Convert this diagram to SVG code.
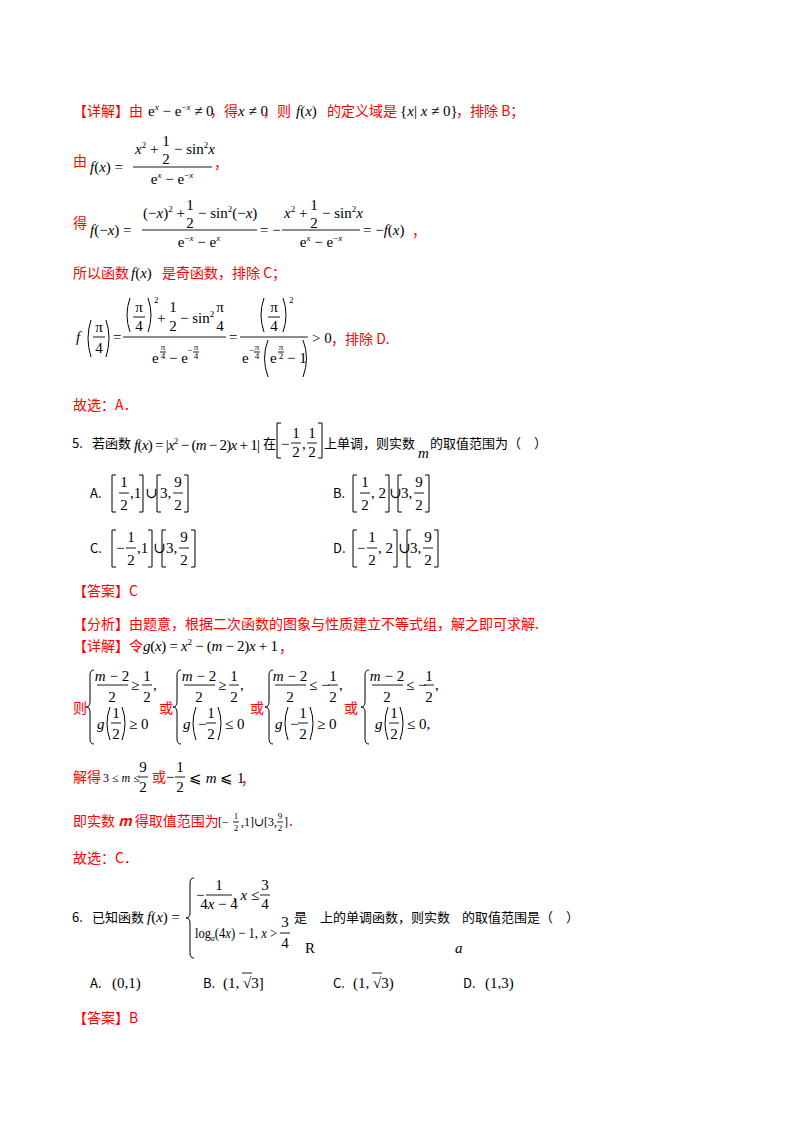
<svg xmlns="http://www.w3.org/2000/svg" width="800" height="1132" viewBox="0 0 800 1132">
<style>
.r{font-family:"Noto Sans CJK SC","Liberation Sans",sans-serif;font-size:14px;fill:#f00}
.k{font-family:"Noto Sans CJK SC","Liberation Sans",sans-serif;font-size:13px;fill:#000}
.m{font-family:"Liberation Serif","DejaVu Serif",serif;font-size:15px;fill:#000}
.sm{font-family:"Liberation Serif","DejaVu Serif",serif;font-size:12px;fill:#000}
.xs{font-family:"Liberation Serif","DejaVu Serif",serif;font-size:9px;fill:#000}
.c{text-anchor:middle}
.i{font-style:italic}
.sup{font-size:9px}
line{stroke:#000;stroke-width:0.9}
path{stroke:#000;stroke-width:1;fill:none}
</style>
<rect width="800" height="1132" fill="#fff"/>

<!-- line 1 -->
<text class="r" x="73" y="116">【详解】由</text>
<text class="m" x="148" y="116">e<tspan class="sup i" dy="-6">x</tspan><tspan dy="6"> − e</tspan><tspan class="sup" dy="-6">−<tspan class="i">x</tspan></tspan><tspan dy="6"> ≠ 0</tspan></text>
<text class="r" x="210" y="116">，得</text>
<text class="m" x="238" y="116"><tspan class="i">x</tspan> ≠ 0</text>
<text class="r" x="263" y="116">，则</text>
<text class="m" x="296" y="116" font-size="17"><tspan class="i">f</tspan>(<tspan class="i">x</tspan>)</text>
<text class="r" x="327" y="116">的定义域是</text>
<text class="m" x="400" y="116">{<tspan class="i">x</tspan>| <tspan class="i">x</tspan> ≠ 0}</text>
<text class="r" x="456" y="116">，排除 B；</text>

<!-- 由 f(x) -->
<text class="r" x="73" y="166">由</text>
<text class="m" x="90" y="172" font-size="16"><tspan class="i">f</tspan>(<tspan class="i">x</tspan>) =</text>
<text class="m" x="135" y="154"><tspan class="i">x</tspan><tspan class="sup" dy="-6">2</tspan><tspan dy="6"> +</tspan></text>
<text class="m c" x="166" y="146">1</text>
<text class="m c" x="166" y="164">2</text>
<text class="m" x="174" y="154">− sin<tspan class="sup" dy="-6">2</tspan><tspan class="i" dy="6">x</tspan></text>
<line x1="133" y1="167" x2="212" y2="167"/>
<text class="m c" x="172" y="184">e<tspan class="sup i" dy="-6">x</tspan><tspan dy="6"> − e</tspan><tspan class="sup" dy="-6">−<tspan class="i">x</tspan></tspan></text>
<text class="r" x="214" y="168">，</text>

<!-- 得 f(-x) -->
<text class="r" x="73" y="228">得</text>
<text class="m" x="90" y="235" font-size="16"><tspan class="i">f</tspan>(−<tspan class="i">x</tspan>) =</text>
<text class="m" x="143" y="218">(−<tspan class="i">x</tspan>)<tspan class="sup" dy="-6">2</tspan><tspan dy="6"> +</tspan></text>
<text class="m c" x="190" y="210">1</text>
<text class="m c" x="190" y="228">2</text>
<text class="m" x="198" y="218">− sin<tspan class="sup" dy="-6">2</tspan><tspan dy="6">(−</tspan><tspan class="i">x</tspan>)</text>
<line x1="142" y1="230" x2="257" y2="230"/>
<text class="m c" x="199" y="247">e<tspan class="sup" dy="-6">−<tspan class="i">x</tspan></tspan><tspan dy="6"> − e</tspan><tspan class="sup i" dy="-6">x</tspan></text>
<text class="m" x="260" y="235">= −</text>
<text class="m" x="284" y="218"><tspan class="i">x</tspan><tspan class="sup" dy="-6">2</tspan><tspan dy="6"> +</tspan></text>
<text class="m c" x="314" y="210">1</text>
<text class="m c" x="314" y="228">2</text>
<text class="m" x="322" y="218">− sin<tspan class="sup" dy="-6">2</tspan><tspan class="i" dy="6">x</tspan></text>
<line x1="282" y1="230" x2="360" y2="230"/>
<text class="m c" x="321" y="247">e<tspan class="sup i" dy="-6">x</tspan><tspan dy="6"> − e</tspan><tspan class="sup" dy="-6">−<tspan class="i">x</tspan></tspan></text>
<text class="m" x="363" y="235" font-size="16">= −<tspan class="i">f</tspan>(<tspan class="i">x</tspan>)</text>
<text class="r" x="412" y="236">，</text>

<!-- 所以 -->
<text class="r" x="73" y="278">所以函数</text>
<text class="m" x="131" y="278" font-size="17"><tspan class="i">f</tspan>(<tspan class="i">x</tspan>)</text>
<text class="r" x="162" y="278">是奇函数，排除 C；</text>

<!-- f(pi/4) -->
<text class="m i" x="76" y="342">f</text>
<path d="M91,320 Q85,338 91,357 M106,320 Q112,338 106,357"/>
<text class="m c" x="99" y="332">π</text>
<line x1="93" y1="337" x2="105" y2="337"/>
<text class="m c" x="99" y="353">4</text>
<text class="m" x="113" y="342">=</text>
<line x1="123" y1="337" x2="226" y2="337"/>
<path d="M130,298 Q124,315 130,332 M148,298 Q154,315 148,332"/>
<text class="m c" x="139" y="312">π</text>
<line x1="133" y1="317" x2="145" y2="317"/>
<text class="m c" x="139" y="331">4</text>
<text class="xs" x="154" y="303">2</text>
<text class="m" x="157" y="323">+</text>
<text class="m c" x="173" y="312">1</text>
<text class="m c" x="173" y="331">2</text>
<text class="m" x="180" y="323">− sin<tspan class="sup" dy="-6">2</tspan></text>
<text class="m c" x="220" y="312">π</text>
<text class="m c" x="220" y="331">4</text>
<text class="m" x="152" y="363">e</text>
<text class="xs c" x="163" y="350">π</text>
<line x1="160" y1="352" x2="166" y2="352"/>
<text class="xs c" x="163" y="359">4</text>
<text class="m" x="169" y="363">− e</text>
<text class="xs" x="187" y="353">−</text>
<text class="xs c" x="196" y="350">π</text>
<line x1="193" y1="352" x2="199" y2="352"/>
<text class="xs c" x="196" y="359">4</text>
<text class="m" x="229" y="342">=</text>
<line x1="240" y1="337" x2="308" y2="337"/>
<path d="M264,298 Q258,315 264,332 M283,298 Q289,315 283,332"/>
<text class="m c" x="274" y="312">π</text>
<line x1="268" y1="317" x2="280" y2="317"/>
<text class="m c" x="274" y="331">4</text>
<text class="xs" x="289" y="303">2</text>
<text class="m" x="242" y="363">e</text>
<text class="xs" x="249" y="353">−</text>
<text class="xs c" x="257" y="350">π</text>
<line x1="254" y1="352" x2="260" y2="352"/>
<text class="xs c" x="257" y="359">4</text>
<path d="M268,340 Q261,358 268,377 M303,340 Q310,358 303,377"/>
<text class="m" x="270" y="363">e</text>
<text class="xs c" x="281" y="350">π</text>
<line x1="278" y1="352" x2="284" y2="352"/>
<text class="xs c" x="281" y="359">2</text>
<text class="m" x="287" y="363">− 1</text>
<text class="m" x="312" y="343">&gt; 0</text>
<text class="r" x="331" y="344">，排除 D.</text>

<text class="r" x="73" y="410">故选：A．</text>

<!-- Q5 -->
<text class="k" x="72" y="448">5.</text>
<text class="k" x="92" y="448">若函数</text>
<text class="m" x="134" y="450" textLength="126" lengthAdjust="spacing"><tspan class="i">f</tspan>(<tspan class="i">x</tspan>) = |<tspan class="i">x</tspan><tspan class="sup" dy="-6">2</tspan><tspan dy="6"> − (</tspan><tspan class="i">m</tspan> − 2)<tspan class="i">x</tspan> + 1|</text>
<text class="k" x="263" y="448">在</text>
<path d="M281,423 H277 V458 H281 M318,423 H322 V458 H318"/>
<text class="m" x="281" y="449">−</text>
<text class="m c" x="296" y="438">1</text>
<line x1="291" y1="443" x2="301" y2="443"/>
<text class="m c" x="296" y="457">2</text>
<text class="m" x="302" y="449">,</text>
<text class="m c" x="312" y="438">1</text>
<line x1="307" y1="443" x2="317" y2="443"/>
<text class="m c" x="312" y="457">2</text>
<text class="k" x="324" y="448">上单调，则实数</text>
<text class="m i" x="418" y="458">m</text>
<text class="k" x="430" y="448">的取值范围为（　）</text>

<!-- options A,B -->
<text class="k" x="90" y="498">A.</text>
<path d="M116,475 H112 V512 H116 M139,475 H143 V512 H139 M161,475 H157 V512 H161 M184,475 H188 V512 H184"/>
<text class="m c" x="124" y="487">1</text><line x1="119" y1="493" x2="129" y2="493"/><text class="m c" x="124" y="510">2</text>
<text class="m" x="130" y="498">,1</text>
<text class="m" x="145" y="498">∪</text>
<text class="m" x="160" y="498">3,</text>
<text class="m c" x="178" y="487">9</text><line x1="173" y1="493" x2="183" y2="493"/><text class="m c" x="178" y="510">2</text>

<text class="k" x="333" y="498">B.</text>
<path d="M357,475 H353 V512 H357 M385,475 H389 V512 H385 M402,475 H398 V512 H402 M425,475 H429 V512 H425"/>
<text class="m c" x="365" y="487">1</text><line x1="360" y1="493" x2="370" y2="493"/><text class="m c" x="365" y="510">2</text>
<text class="m" x="371" y="498">, 2</text>
<text class="m" x="389" y="498">∪</text>
<text class="m" x="401" y="498">3,</text>
<text class="m c" x="419" y="487">9</text><line x1="414" y1="493" x2="424" y2="493"/><text class="m c" x="419" y="510">2</text>

<!-- options C,D -->
<text class="k" x="90" y="553">C.</text>
<path d="M116,530 H112 V567 H116 M148,530 H152 V567 H148 M166,530 H162 V567 H166 M191,530 H195 V567 H191"/>
<text class="m" x="116" y="553">−</text>
<text class="m c" x="131" y="542">1</text><line x1="126" y1="548" x2="136" y2="548"/><text class="m c" x="131" y="565">2</text>
<text class="m" x="137" y="553">,1</text>
<text class="m" x="153" y="553">∪</text>
<text class="m" x="166" y="553">3,</text>
<text class="m c" x="184" y="542">9</text><line x1="179" y1="548" x2="189" y2="548"/><text class="m c" x="184" y="565">2</text>

<text class="k" x="333" y="553">D.</text>
<path d="M357,530 H353 V567 H357 M393,530 H397 V567 H393 M411,530 H407 V567 H411 M434,530 H438 V567 H434"/>
<text class="m" x="357" y="553">−</text>
<text class="m c" x="372" y="542">1</text><line x1="367" y1="548" x2="377" y2="548"/><text class="m c" x="372" y="565">2</text>
<text class="m" x="378" y="553">, 2</text>
<text class="m" x="398" y="553">∪</text>
<text class="m" x="410" y="553">3,</text>
<text class="m c" x="428" y="542">9</text><line x1="423" y1="548" x2="433" y2="548"/><text class="m c" x="428" y="565">2</text>

<text class="r" x="73" y="596">【答案】C</text>
<text class="r" x="73" y="629">【分析】由题意，根据二次函数的图象与性质建立不等式组，解之即可求解.</text>

<text class="r" x="73" y="651">【详解】令</text>
<text class="m" x="143" y="651" textLength="135" lengthAdjust="spacing"><tspan class="i">g</tspan>(<tspan class="i">x</tspan>) = <tspan class="i">x</tspan><tspan class="sup" dy="-6">2</tspan><tspan dy="6"> − (</tspan><tspan class="i">m</tspan> − 2)<tspan class="i">x</tspan> + 1</text>
<text class="r" x="279" y="652">，</text>

<!-- systems -->
<text class="r" x="73" y="713">则</text>
<text class="r" x="159" y="713">或</text>
<text class="r" x="250" y="713">或</text>
<text class="r" x="344" y="713">或</text>
<path d="M94,670 q-4,0 -4,5 v27 q0,5 -4,5 q4,0 4,5 v27 q0,5 4,5"/>
<path d="M181,670 q-4,0 -4,5 v27 q0,5 -4,5 q4,0 4,5 v27 q0,5 4,5"/>
<path d="M273,670 q-4,0 -4,5 v27 q0,5 -4,5 q4,0 4,5 v27 q0,5 4,5"/>
<path d="M369,670 q-4,0 -4,5 v27 q0,5 -4,5 q4,0 4,5 v27 q0,5 4,5"/>
<!-- sys1 -->
<text class="m c" x="112" y="681"><tspan class="i">m</tspan> − 2</text><line x1="97" y1="685" x2="128" y2="685"/><text class="m c" x="112" y="702">2</text>
<text class="m" x="131" y="690">≥</text>
<text class="m c" x="147" y="681">1</text><line x1="142" y1="685" x2="152" y2="685"/><text class="m c" x="147" y="702">2</text>
<text class="m" x="153" y="690">,</text>
<text class="m i" x="97" y="729">g</text>
<path d="M110,707 Q104,723 110,740 M122,707 Q128,723 122,740"/>
<text class="m c" x="116" y="718">1</text><line x1="111" y1="723" x2="121" y2="723"/><text class="m c" x="116" y="739">2</text>
<text class="m" x="129" y="729">≥ 0</text>
<!-- sys2 -->
<text class="m c" x="199" y="681"><tspan class="i">m</tspan> − 2</text><line x1="184" y1="685" x2="215" y2="685"/><text class="m c" x="199" y="702">2</text>
<text class="m" x="218" y="690">≥</text>
<text class="m c" x="234" y="681">1</text><line x1="229" y1="685" x2="239" y2="685"/><text class="m c" x="234" y="702">2</text>
<text class="m" x="240" y="690">,</text>
<text class="m i" x="183" y="729">g</text>
<path d="M196,707 Q190,723 196,740 M218,707 Q224,723 218,740"/>
<text class="m" x="198" y="729">−</text>
<text class="m c" x="211" y="718">1</text><line x1="206" y1="723" x2="216" y2="723"/><text class="m c" x="211" y="739">2</text>
<text class="m" x="225" y="729">≤ 0</text>
<!-- sys3 -->
<text class="m c" x="290" y="681"><tspan class="i">m</tspan> − 2</text><line x1="275" y1="685" x2="306" y2="685"/><text class="m c" x="290" y="702">2</text>
<text class="m" x="309" y="690">≤ −</text>
<text class="m c" x="333" y="681">1</text><line x1="328" y1="685" x2="338" y2="685"/><text class="m c" x="333" y="702">2</text>
<text class="m" x="339" y="690">,</text>
<text class="m i" x="275" y="729">g</text>
<path d="M288,707 Q282,723 288,740 M310,707 Q316,723 310,740"/>
<text class="m" x="290" y="729">−</text>
<text class="m c" x="303" y="718">1</text><line x1="298" y1="723" x2="308" y2="723"/><text class="m c" x="303" y="739">2</text>
<text class="m" x="317" y="729">≥ 0</text>
<!-- sys4 -->
<text class="m c" x="387" y="681"><tspan class="i">m</tspan> − 2</text><line x1="372" y1="685" x2="403" y2="685"/><text class="m c" x="387" y="702">2</text>
<text class="m" x="406" y="690">≤ −</text>
<text class="m c" x="429" y="681">1</text><line x1="424" y1="685" x2="434" y2="685"/><text class="m c" x="429" y="702">2</text>
<text class="m" x="435" y="690">,</text>
<text class="m i" x="375" y="729">g</text>
<path d="M388,707 Q382,723 388,740 M400,707 Q406,723 400,740"/>
<text class="m c" x="394" y="718">1</text><line x1="389" y1="723" x2="399" y2="723"/><text class="m c" x="394" y="739">2</text>
<text class="m" x="407" y="729">≤ 0,</text>

<!-- 解得 -->
<text class="r" x="73" y="782">解得</text>
<text class="sm" x="103" y="782">3 ≤ <tspan class="i">m</tspan> ≤</text>
<text class="m c" x="143" y="772">9</text><line x1="138" y1="777" x2="148" y2="777"/><text class="m c" x="143" y="792">2</text>
<text class="r" x="152" y="782">或</text>
<text class="m" x="166" y="782">−</text>
<text class="m c" x="180" y="772">1</text><line x1="175" y1="777" x2="185" y2="777"/><text class="m c" x="180" y="792">2</text>
<text class="m" x="189" y="783" font-family="DejaVu Serif">⩽ <tspan class="i" font-family="Liberation Serif">m</tspan> ⩽ 1</text>
<text class="r" x="241" y="784">，</text>

<!-- 即 -->
<text class="r" x="73" y="826">即实数 <tspan font-style="italic" font-weight="bold">m</tspan> 得取值范围为</text>
<text class="sm" x="218" y="826">[−</text>
<text class="xs c" x="236" y="819">1</text><line x1="233" y1="822" x2="239" y2="822"/><text class="xs c" x="236" y="831">2</text>
<text class="sm" x="241" y="826">,1]∪[3,</text>
<text class="xs c" x="280" y="819">9</text><line x1="277" y1="822" x2="283" y2="822"/><text class="xs c" x="280" y="831">2</text>
<text class="sm" x="284" y="826">]</text>
<text class="r" x="289" y="826">.</text>

<text class="r" x="73" y="863">故选：C．</text>

<!-- Q6 -->
<text class="k" x="72" y="922">6.</text>
<text class="k" x="92" y="922">已知函数</text>
<text class="m" x="147" y="922" font-size="16"><tspan class="i">f</tspan>(<tspan class="i">x</tspan>) =</text>
<path d="M194,878 q-4,0 -4,5 v30 q0,5 -4,5 q4,0 4,5 v30 q0,5 4,5"/>
<text class="m" x="196" y="900">−</text>
<text class="m c" x="219" y="890">1</text><line x1="206" y1="895" x2="232" y2="895"/><text class="m c" x="219" y="909">4<tspan class="i">x</tspan> − 4</text>
<text class="m" x="233" y="900">, <tspan class="i">x</tspan> ≤</text>
<text class="m c" x="265" y="890">3</text><line x1="260" y1="895" x2="270" y2="895"/><text class="m c" x="265" y="909">4</text>
<text class="m" x="195" y="938" textLength="82" lengthAdjust="spacingAndGlyphs">log<tspan class="xs i" dy="3">a</tspan><tspan dy="-3">(4</tspan><tspan class="i">x</tspan>) − 1, <tspan class="i">x</tspan> &gt;</text>
<text class="m c" x="285" y="927">3</text><line x1="280" y1="933" x2="290" y2="933"/><text class="m c" x="285" y="948">4</text>
<text class="k" x="294" y="922">是</text>
<text class="k" x="320" y="922">上的单调函数，则实数</text>
<text class="k" x="462" y="922">的取值范围是（　）</text>
<text class="m" x="305" y="953">R</text>
<text class="m i" x="455" y="953">a</text>

<text class="k" x="90" y="988">A.</text>
<text class="m" x="112" y="988" font-size="16">(0,1)</text>
<text class="k" x="203" y="988">B.</text>
<text class="m" x="223" y="988" font-size="16">(1, √3]</text>
<line x1="242" y1="973" x2="252" y2="973"/>
<text class="k" x="333" y="988">C.</text>
<text class="m" x="353" y="988" font-size="16">(1, √3)</text>
<line x1="372" y1="973" x2="382" y2="973"/>
<text class="k" x="463" y="988">D.</text>
<text class="m" x="485" y="988" font-size="16">(1,3)</text>

<text class="r" x="73" y="1023">【答案】B</text>
</svg>
